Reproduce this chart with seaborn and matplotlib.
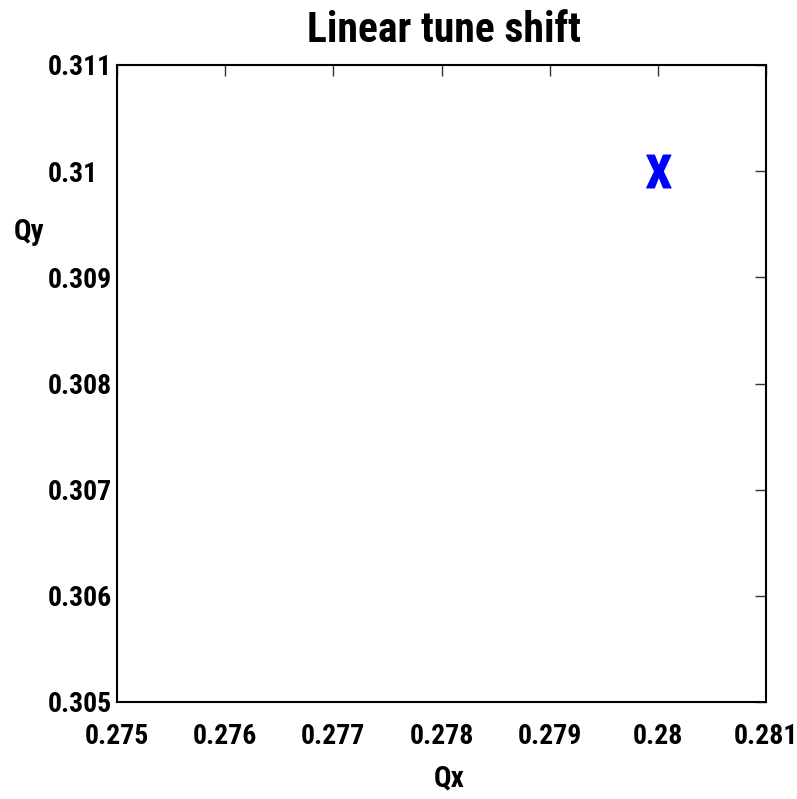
import matplotlib
matplotlib.use("Agg")
import matplotlib.pyplot as plt
import seaborn as sns
import pandas as pd
from matplotlib.textpath import TextPath
from matplotlib.font_manager import FontProperties
from matplotlib.path import Path

qx = [0.28]
qy = [0.31]
xticks = [0.275, 0.276, 0.277, 0.278, 0.279, 0.28, 0.281]
yticks = [0.305, 0.306, 0.307, 0.308, 0.309, 0.31, 0.311]
xticklabels = ["0.275", "0.276", "0.277", "0.278", "0.279", "0.28", "0.281"]
yticklabels = ["0.305", "0.306", "0.307", "0.308", "0.309", "0.31", "0.311"]

sns.set_theme(style="white")
FAM = ["Roboto Condensed", "DejaVu Sans"]
plt.rcParams["font.family"] = FAM
plt.rcParams["font.weight"] = "bold"
plt.rcParams["text.color"] = "black"
plt.rcParams["xtick.color"] = "black"
plt.rcParams["ytick.color"] = "black"

fig = plt.figure(figsize=(7.97, 7.99), dpi=100)
ax = fig.add_axes([117/797, 1-702/799, (766-117)/797, (702-65)/799])

fp = FontProperties(family=FAM, weight="bold")
tp = TextPath((0, 0), "X", prop=fp)
verts = tp.vertices.copy()
cx = (verts[:, 0].min() + verts[:, 0].max()) / 2
cy = (verts[:, 1].min() + verts[:, 1].max()) / 2
verts[:, 0] -= cx
verts[:, 1] -= cy
xpath = Path(verts, tp.codes)

df = pd.DataFrame({"Qx": qx, "Qy": qy})
sns.scatterplot(data=df, x="Qx", y="Qy", marker=xpath, s=560, color="#0000ff",
                edgecolor="#0000ff", linewidth=0.8, ax=ax, legend=False)

ax.set_xlim(0.275, 0.281)
ax.set_ylim(0.305, 0.311)
ax.set_xticks(xticks)
ax.set_xticklabels(xticklabels)
ax.set_yticks(yticks)
ax.set_yticklabels(yticklabels)
ax.tick_params(axis="both", direction="in", length=8, width=1, color="#333333",
               top=True, right=True, labelsize=20, labelcolor="black")
ax.tick_params(axis="x", pad=15)
ax.tick_params(axis="y", pad=50)
for lab in ax.get_xticklabels() + ax.get_yticklabels():
    lab.set_fontweight("bold")
for lab in ax.get_yticklabels():
    lab.set_horizontalalignment("left")
for sp in ax.spines.values():
    sp.set_color("black")
    sp.set_linewidth(1.5)

ax.set_xlabel("")
ax.set_ylabel("")
fig.text(449/797, 1-778/799, "Qx", ha="center", va="center", fontsize=21, fontweight="bold")
fig.text(29/797, 1-232/799, "Qy", ha="center", va="center", fontsize=21, fontweight="bold")
fig.text(444/797, 1-31/799, "Linear tune shift", ha="center", va="center", fontsize=30, fontweight="bold")

fig.savefig("out.png", dpi=100)
